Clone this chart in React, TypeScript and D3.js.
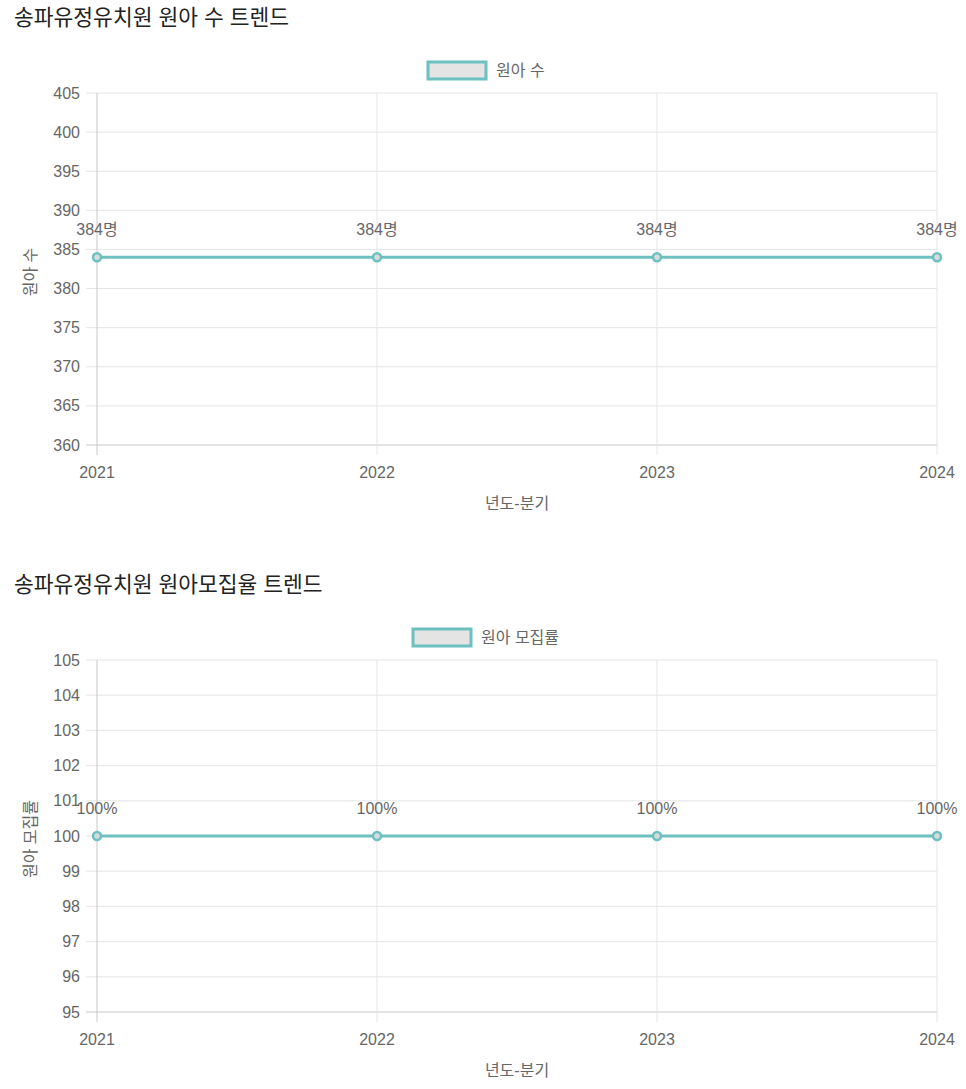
import { useEffect, useRef } from "react";
import * as d3 from "d3";

const YEARS = ["2021", "2022", "2023", "2024"];
const KIDS = [384, 384, 384, 384];
const RATES = [100, 100, 100, 100];
const KIDS_TICKS = [360, 365, 370, 375, 380, 385, 390, 395, 400, 405];
const RATE_TICKS = [95, 96, 97, 98, 99, 100, 101, 102, 103, 104, 105];

const TEAL = "#6cc0c0";
const FONT = "'Liberation Sans', 'Noto Sans CJK KR', sans-serif";
const FS = 16;

interface ChartProps {
  top: number;
  title: string;
  legend: string;
  yTitle: string;
  values: number[];
  ticks: number[];
  unit: string;
  legendX: number;
}

const Chart: React.FC<ChartProps> = ({ top, title, legend, yTitle, values, ticks, unit, legendX }) => {
  const ref = useRef<SVGGElement | null>(null);

  useEffect(() => {
    const g = d3.select(ref.current);
    g.selectAll("*").remove();

    const LEFT = 97;
    const RIGHT = 937;
    const TOP = top + 93;
    const BOTTOM = top + 445;

    const x = d3.scalePoint<string>().domain(YEARS).range([LEFT, RIGHT]);
    const y = d3
      .scaleLinear()
      .domain([ticks[0], ticks[ticks.length - 1]])
      .range([BOTTOM, TOP]);

    // title
    g.append("text")
      .attr("x", 14)
      .attr("y", top + 25)
      .attr("font-size", 21.5)
      .attr("font-weight", 400)
      .attr("fill", "#222")
      .text(title);

    // legend
    g.append("rect")
      .attr("x", legendX)
      .attr("y", top + 62)
      .attr("width", 58)
      .attr("height", 17)
      .attr("fill", "#e4e4e4")
      .attr("stroke", TEAL)
      .attr("stroke-width", 3);
    g.append("text")
      .attr("x", legendX + 68)
      .attr("y", top + 76)
      .attr("font-size", FS)
      .attr("fill", "#666")
      .text(legend);

    // horizontal grid + ticks
    ticks.forEach((t) => {
      g.append("line")
        .attr("x1", LEFT - 11)
        .attr("x2", RIGHT)
        .attr("y1", y(t))
        .attr("y2", y(t))
        .attr("stroke", t === ticks[0] ? "#c8c8c8" : "#e5e5e5")
        .attr("stroke-width", 1);
      g.append("text")
        .attr("x", 80)
        .attr("y", y(t))
        .attr("dy", "0.35em")
        .attr("text-anchor", "end")
        .attr("font-size", FS)
        .attr("fill", "#666")
        .text(t);
    });

    // vertical grid + ticks
    YEARS.forEach((yr, i) => {
      g.append("line")
        .attr("x1", x(yr)!)
        .attr("x2", x(yr)!)
        .attr("y1", TOP)
        .attr("y2", BOTTOM + 10)
        .attr("stroke", i === 0 ? "#c8c8c8" : "#e5e5e5")
        .attr("stroke-width", 1);
      g.append("text")
        .attr("x", x(yr)!)
        .attr("y", BOTTOM + 33)
        .attr("text-anchor", "middle")
        .attr("font-size", FS)
        .attr("fill", "#666")
        .text(yr);
    });

    // axis titles
    g.append("text")
      .attr("x", (LEFT + RIGHT) / 2)
      .attr("y", BOTTOM + 64)
      .attr("text-anchor", "middle")
      .attr("font-size", FS)
      .attr("fill", "#666")
      .text("년도-분기");
    g.append("text")
      .attr("transform", `translate(36, ${(TOP + BOTTOM) / 2 + 3}) rotate(-90)`)
      .attr("text-anchor", "middle")
      .attr("font-size", FS)
      .attr("fill", "#666")
      .text(yTitle);

    // line
    const line = d3
      .line<number>()
      .x((_, i) => x(YEARS[i])!)
      .y((d) => y(d));
    g.append("path")
      .datum(values)
      .attr("d", line)
      .attr("fill", "none")
      .attr("stroke", TEAL)
      .attr("stroke-width", 3);

    g.selectAll("circle.pt")
      .data(values)
      .join("circle")
      .attr("class", "pt")
      .attr("cx", (_, i) => x(YEARS[i])!)
      .attr("cy", (d) => y(d))
      .attr("r", 4)
      .attr("fill", "#d6dcdc")
      .attr("stroke", TEAL)
      .attr("stroke-width", 2.5);

    g.selectAll("text.lbl")
      .data(values)
      .join("text")
      .attr("class", "lbl")
      .attr("x", (_, i) => x(YEARS[i])!)
      .attr("y", (d) => y(d) - 22)
      .attr("text-anchor", "middle")
      .attr("font-size", FS)
      .attr("fill", "#666")
      .text((d) => `${d}${unit}`);
  }, [top, title, legend, yTitle, values, ticks, unit, legendX]);

  return <g ref={ref} />;
};

export default function App() {
  return (
    <svg
      width={966}
      height={1089}
      style={{ position: "absolute", left: 0, top: 0, fontFamily: FONT, background: "#fff" }}
    >
      <Chart
        top={0}
        title="송파유정유치원 원아 수 트렌드"
        legend="원아 수"
        yTitle="원아 수"
        values={KIDS}
        ticks={KIDS_TICKS}
        unit="명"
        legendX={428}
      />
      <Chart
        top={567}
        title="송파유정유치원 원아모집율 트렌드"
        legend="원아 모집률"
        yTitle="원아 모집률"
        values={RATES}
        ticks={RATE_TICKS}
        unit="%"
        legendX={413}
      />
    </svg>
  );
}
